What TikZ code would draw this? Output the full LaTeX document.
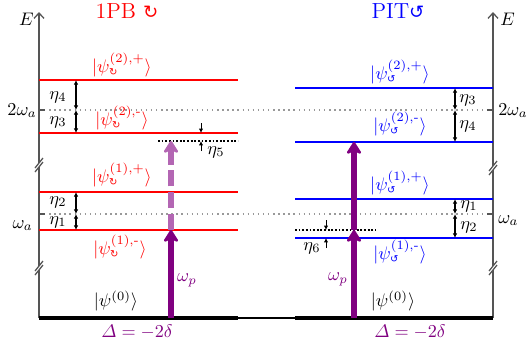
\documentclass[tikz,border=0pt]{standalone}
\usepackage{amsmath,amssymb}
\usepackage{fontspec}
\newfontfamily\djv{DejaVu Sans}
\usetikzlibrary{arrows.meta}
\definecolor{pumpcol}{RGB}{128,0,128}
\definecolor{axcol}{RGB}{85,85,85}
\newcommand\cwsub{\text{\djv\fontsize{5.5}{6}\selectfont ↻}}
\newcommand\ccwsub{\text{\djv\fontsize{5.5}{6}\selectfont ↺}}
\begin{document}
\begin{tikzpicture}[x=0.55pt,y=-0.55pt,
  axis/.style={axcol, line width=0.7pt},
  lvlr/.style={red, line width=1.1pt},
  lvlb/.style={blue, line width=1.1pt},
  groundline/.style={black, line width=1.7pt},
  refline/.style={black!40, dotted, line width=0.8pt},
  virt/.style={black, densely dotted, line width=1pt},
  gaparrow/.style={{Latex[length=2.6pt,width=2.6pt]}-{Latex[length=2.6pt,width=2.6pt]}, line width=0.6pt},
  smallarrow/.style={-{Latex[length=2.4pt,width=2.4pt]}, line width=0.5pt},
  pumparrow/.style={pumpcol, line width=2.8pt, -{Stealth[length=8pt,width=10pt,inset=2.5pt,round]}},
  pumpdash/.style={pumpcol!60, line width=2.8pt, dash pattern=on 9pt off 3pt, -{Stealth[length=8pt,width=10pt,inset=2.5pt,round]}},
  lab/.style={inner sep=0pt},
]
\useasboundingbox (0,0) rectangle (529,348);

% ---------- coordinates ----------
\coordinate (AxLb) at (39,318);  \coordinate (AxLt) at (39,12);
\coordinate (AxRb) at (493,318); \coordinate (AxRt) at (493,12);
% left levels
\coordinate (L2pa) at (39,80);  \coordinate (L2pb) at (238,80);
\coordinate (L2ma) at (39,133); \coordinate (L2mb) at (238,133);
\coordinate (L1pa) at (39,192); \coordinate (L1pb) at (238,192);
\coordinate (L1ma) at (39,230); \coordinate (L1mb) at (238,230);
\coordinate (L0a) at (39,318);  \coordinate (L0b) at (238,318);
% right levels
\coordinate (R2pa) at (295,88);  \coordinate (R2pb) at (493,88);
\coordinate (R2ma) at (295,142); \coordinate (R2mb) at (493,142);
\coordinate (R1pa) at (295,199); \coordinate (R1pb) at (493,199);
\coordinate (R1ma) at (295,238); \coordinate (R1mb) at (493,238);
\coordinate (R0a) at (295,318);  \coordinate (R0b) at (493,318);
% reference lines
\coordinate (W2a) at (44,110);  \coordinate (W2b) at (490,110);
\coordinate (W1a) at (44,214);  \coordinate (W1b) at (490,214);
% virtual levels
\coordinate (VLa) at (158,141); \coordinate (VLb) at (238,141);
\coordinate (VRa) at (295,230); \coordinate (VRb) at (376,230);
% columns
\coordinate (etaL) at (76,0);
\coordinate (etaR) at (455,0);
\coordinate (pL) at (171,0);
\coordinate (pR) at (354,0);
\coordinate (e5) at (201,0);
\coordinate (e6) at (326,0);

% ---------- reference dotted lines ----------
\draw[refline] (W2a) -- (W2b);
\draw[refline] (W1a) -- (W1b);

% ---------- axes ----------
\draw[axis, -{Straight Barb[length=3pt,width=5.5pt]}] (AxLb) -- (AxLt);
\draw[axis, -{Straight Barb[length=3pt,width=5.5pt]}] (AxRb) -- (AxRt);
\foreach \yy in {110,214} {
  \draw[axis] (39,\yy) -- (45,\yy);
  \draw[axis] (487,\yy) -- (493,\yy);
}
\foreach \xx/\yy in {39/165, 39/268, 493/168, 493/268} {
  \fill[white] (\xx-4,\yy+3) -- (\xx+4,\yy-7) -- (\xx+4,\yy-3) -- (\xx-4,\yy+7) -- cycle;
  \draw[axis] (\xx-4,\yy+3) -- (\xx+4,\yy-7);
  \draw[axis] (\xx-4,\yy+7) -- (\xx+4,\yy-3);
}
\node[lab, anchor=base east] (EL) at (34,25) {$E$};
\node[lab, anchor=base west] (ER) at (500,25) {$E$};
\node[lab, anchor=base east] (w2L) at (37,115) {$2\omega_a$};
\node[lab, anchor=base east] (w1L) at (33,228) {$\omega_a$};
\node[lab, anchor=base west] (w2R) at (498,115) {$2\omega_a$};
\node[lab, anchor=base west] (w1R) at (498,223) {$\omega_a$};

% ---------- titles ----------
\node[lab, red, font=\large, anchor=base] (tL) at (127,18) {$\mathrm{1PB}$\ {\djv\normalsize ↻}};
\node[lab, blue, font=\large, anchor=base] (tR) at (398,18) {$\mathrm{PIT}${\djv\normalsize ↺}};

% ---------- levels ----------
\draw[lvlr] (L2pa) -- (L2pb);
\draw[lvlr] (L2ma) -- (L2mb);
\draw[lvlr] (L1pa) -- (L1pb);
\draw[lvlr] (L1ma) -- (L1mb);
\draw[lvlb] (R2pa) -- (R2pb);
\draw[lvlb] (R2ma) -- (R2mb);
\draw[lvlb] (R1pa) -- (R1pb);
\draw[lvlb] (R1ma) -- (R1mb);
\draw[groundline] (L0a) -- (L0b);
\draw[groundline] (R0a) -- (R0b);
\draw[black, line width=0.6pt] (L0b) -- (R0a);

% virtual levels
\draw[virt] (VLa) -- (VLb);
\draw[virt] (VRa) -- (VRb);

% ---------- state labels ----------
\node[lab, red] (sL2p) at (122,65) {$|\psi^{(2),+}_{\cwsub}\rangle$};
\node[lab, red] (sL2m) at (122,118) {$|\psi^{(2),\text{-}}_{\cwsub}\rangle$};
\node[lab, red] (sL1p) at (122,175) {$|\psi^{(1),+}_{\cwsub}\rangle$};
\node[lab, red] (sL1m) at (120,247) {$|\psi^{(1),\text{-}}_{\cwsub}\rangle$};
\node[lab] (sL0) at (116,301) {$|\psi^{(0)}\rangle$};
\node[lab, blue] (sR2p) at (400,72) {$|\psi^{(2),+}_{\ccwsub}\rangle$};
\node[lab, blue] (sR2m) at (400,124) {$|\psi^{(2),\text{-}}_{\ccwsub}\rangle$};
\node[lab, blue] (sR1p) at (400,183) {$|\psi^{(1),+}_{\ccwsub}\rangle$};
\node[lab, blue] (sR1m) at (400,252) {$|\psi^{(1),\text{-}}_{\ccwsub}\rangle$};
\node[lab] (sR0) at (393,301) {$|\psi^{(0)}\rangle$};

% ---------- splitting arrows ----------
\draw[gaparrow] (L2pa -| etaL) -- (W2a -| etaL);
\draw[gaparrow] (W2a -| etaL) -- (L2ma -| etaL);
\draw[gaparrow] (L1pa -| etaL) -- (W1a -| etaL);
\draw[gaparrow] (W1a -| etaL) -- (L1ma -| etaL);
\node[lab] (eta4L) at (58,97) {$\eta_4$};
\node[lab] (eta3L) at (58,122) {$\eta_3$};
\node[lab] (eta2L) at (58,202) {$\eta_2$};
\node[lab] (eta1L) at (58,222) {$\eta_1$};

\draw[gaparrow] (R2pa -| etaR) -- (W2a -| etaR);
\draw[gaparrow] (W2a -| etaR) -- (R2ma -| etaR);
\draw[gaparrow] (R1pa -| etaR) -- (W1a -| etaR);
\draw[gaparrow] (W1a -| etaR) -- (R1ma -| etaR);
\node[lab] (eta3R) at (468,100) {$\eta_3$};
\node[lab] (eta4R) at (468,126) {$\eta_4$};
\node[lab] (eta1R) at (469,206) {$\eta_1$};
\node[lab] (eta2R) at (469,227) {$\eta_2$};

% detuning arrows
\coordinate (e5t) at (201,123); \coordinate (e5b) at (201,151);
\draw[smallarrow] (e5t) -- (L2ma -| e5);
\draw[smallarrow] (e5b) -- (VLa -| e5);
\node[lab, anchor=west] (eta5) at (207,152) {$\eta_5$};
\coordinate (e6t) at (326,220); \coordinate (e6b) at (326,248);
\draw[smallarrow] (e6t) -- (VRa -| e6);
\draw[smallarrow] (e6b) -- (R1ma -| e6);
\node[lab] (eta6) at (312,248) {$\eta_6$};

% ---------- pump arrows ----------
\draw[pumparrow] (L0a -| pL) -- (L1ma -| pL);
\draw[pumpdash] (L1ma -| pL) -- (VLa -| pL);
\draw[pumparrow] (R0a -| pR) -- (VRa -| pR);
\draw[pumparrow] (VRa -| pR) -- (R2ma -| pR);
\node[lab, pumpcol] (wpL) at (187,280) {$\omega_p$};
\node[lab, pumpcol] (wpR) at (338,279) {$\omega_p$};
\node[lab, pumpcol] (dL) at (137,332) {$\varDelta=-2\delta$};
\node[lab, pumpcol] (dR) at (410,332) {$\varDelta=-2\delta$};
\end{tikzpicture}
\end{document}
